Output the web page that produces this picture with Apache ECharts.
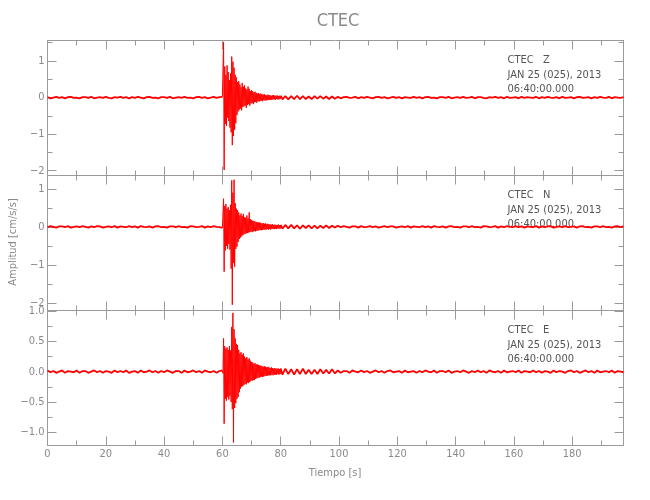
<!DOCTYPE html>
<html><head><meta charset="utf-8">
<script src="https://cdn.jsdelivr.net/npm/echarts@6/dist/echarts.min.js"></script>
<style>html,body{margin:0;padding:0;background:#fff}#c{width:650px;height:500px}</style>
</head><body><div id="c"></div>
<script>
// ---------- text ----------
const TITLE = 'CTEC';
const STATION = 'CTEC';
const COMPONENTS = ['Z', 'N', 'E'];
const DATE_LINE = 'JAN 25 (025), 2013';
const TIME_LINE = '06:40:00.000';
const X_LABEL = 'Tiempo [s]';
const Y_LABEL = 'Amplitud [cm/s/s]';

// ---------- axes ----------
const X_MIN = 0, X_MAX = 197.6;
const xTicks = [0, 20, 40, 60, 80, 100, 120, 140, 160, 180];
const xMinorTicks = [10, 30, 50, 70, 90, 110, 130, 150, 170, 190];
const zRange = [-2.13, 1.56];
const nRange = [-2.2, 1.35];
const eRange = [-1.22, 1.01];
const zTicks = [-2, -1, 0, 1];
const zMinorTicks = [-1.5, -0.5, 0.5, 1.5];
const nTicks = [-2, -1, 0, 1];
const nMinorTicks = [-1.5, -0.5, 0.5];
const eTicks = [-1.0, -0.5, 0.0, 0.5, 1.0];
const eMinorTicks = [-0.75, -0.25, 0.25, 0.75];

// ---------- sampling of the three trace segments (seconds) ----------
const PRE_START = 0, PRE_STEP = 1;
const EVENT_START = 60, EVENT_STEP = 0.2;
const POST_START = 80.6, POST_STEP = 1;

// ---------- Z component ----------
const zPre = [0.01,-0.02,0.00,0.02,-0.01,0.01,-0.02,0.01,0.02,-0.01,
 0.00,-0.02,0.01,0.01,-0.01,0.02,-0.02,0.00,0.01,-0.01,
 0.02,-0.01,-0.02,0.01,0.00,0.02,-0.01,0.01,-0.02,0.01,
 -0.01,0.02,0.00,-0.02,0.01,0.02,-0.01,0.00,-0.02,0.01,
 0.01,-0.01,0.02,-0.02,0.00,0.01,-0.01,0.02,-0.01,0.00,
 -0.02,0.01,0.02,-0.01,0.01,-0.02,0.00,0.02,-0.01,0.01];
const zEvent = [0.02,-0.03,1.52,-1.98,0.85,-0.72,0.62,-0.78,0.88,-0.55,
 0.70,-0.64,0.48,-0.82,0.66,-0.95,1.12,-1.30,0.98,-1.05,
 0.82,-0.88,0.62,-0.70,0.55,-0.48,0.42,-0.38,0.45,-0.33,
 0.36,-0.30,0.28,-0.35,0.40,-0.26,0.30,-0.24,0.33,-0.22,
 0.25,-0.28,0.22,-0.20,0.30,-0.18,0.24,-0.22,0.18,-0.16,
 0.20,-0.15,0.17,-0.18,0.14,-0.13,0.16,-0.12,0.13,-0.14,
 0.11,-0.10,0.12,-0.11,0.10,-0.09,0.11,-0.08,0.09,-0.10,
 0.08,-0.07,0.09,-0.08,0.07,-0.08,0.06,-0.07,0.08,-0.06,
 0.07,-0.06,0.06,-0.07,0.05,-0.06,0.06,-0.05,0.07,-0.05,
 0.05,-0.06,0.05,-0.04,0.06,-0.05,0.04,-0.05,0.05,-0.04,
 0.05];
const zPost = [-0.05,0.04,-0.05,0.04,-0.04,0.05,-0.04,0.04,-0.04,0.03,
 -0.04,0.04,-0.03,0.04,-0.03,0.03,-0.04,0.03,-0.03,0.02,
 -0.02,0.01,0.02,-0.01,0.00,0.02,-0.02,0.01,-0.01,0.02,
 0.00,-0.02,0.01,0.02,-0.01,0.01,-0.02,0.00,0.02,-0.01,
 0.01,-0.02,0.01,0.00,-0.01,0.02,-0.01,0.01,-0.02,0.01,
 0.02,-0.01,0.00,-0.02,0.01,0.01,-0.01,0.02,-0.02,0.00,
 0.01,-0.01,0.02,-0.01,0.00,0.02,-0.02,0.01,0.01,-0.01,
 -0.02,0.01,0.00,0.02,-0.01,0.01,-0.02,0.02,-0.01,0.00,
 0.01,-0.02,0.02,-0.01,0.01,0.00,-0.01,0.02,-0.02,0.01,
 -0.01,0.02,0.00,-0.01,0.01,-0.02,0.02,-0.01,0.00,0.01,
 -0.02,0.01,0.02,-0.01,0.00,0.01,-0.02,0.01,-0.01,0.02,
 0.00,-0.01,0.02,-0.02,0.01,0.00,-0.01,0.01];

// ---------- N component ----------
const nPre = [-0.01,0.02,0.00,-0.02,0.01,0.01,-0.01,0.02,-0.02,0.00,
 0.01,-0.01,0.02,0.00,-0.02,0.01,-0.01,0.02,0.01,-0.02,
 0.00,0.01,-0.01,0.02,-0.02,0.01,0.00,-0.01,0.02,-0.01,
 0.01,-0.02,0.02,0.00,-0.01,0.01,-0.02,0.01,0.02,-0.01,
 0.00,-0.02,0.01,0.01,-0.01,0.02,-0.01,0.00,-0.02,0.02,
 0.01,-0.01,0.00,0.02,-0.02,0.01,-0.01,0.02,0.00,-0.01];
const nEvent = [-0.03,0.02,0.74,-1.18,0.55,-0.62,0.60,-0.50,0.48,-0.58,
 0.52,-0.45,0.44,-0.60,0.58,-1.10,1.22,-2.05,0.90,-0.95,
 1.24,-1.05,0.62,-0.58,0.48,-0.52,0.44,-0.40,0.38,-0.32,
 0.30,-0.28,0.35,-0.25,0.28,-0.22,0.34,-0.20,0.26,-0.18,
 0.24,-0.17,0.30,-0.16,0.22,-0.15,0.38,-0.14,0.20,-0.13,
 0.18,-0.14,0.16,-0.12,0.15,-0.11,0.14,-0.12,0.13,-0.10,
 0.12,-0.10,0.11,-0.09,0.12,-0.08,0.10,-0.09,0.09,-0.08,
 0.10,-0.07,0.08,-0.08,0.09,-0.07,0.07,-0.06,0.08,-0.07,
 0.07,-0.06,0.06,-0.07,0.06,-0.05,0.07,-0.06,0.05,-0.06,
 0.06,-0.05,0.05,-0.06,0.05,-0.04,0.06,-0.05,0.04,-0.05,
 0.05];
const nPost = [-0.05,0.05,-0.04,0.05,-0.04,0.04,-0.05,0.04,-0.03,0.04,
 -0.04,0.03,-0.04,0.03,-0.03,0.04,-0.03,0.03,-0.02,0.03,
 -0.01,0.02,0.00,-0.02,0.01,0.01,-0.02,0.02,-0.01,0.00,
 0.02,-0.01,0.01,-0.02,0.00,0.02,-0.01,0.01,0.01,-0.02,
 0.00,0.01,-0.01,0.02,-0.02,0.01,0.00,-0.01,0.02,-0.01,
 0.01,-0.02,0.02,0.00,-0.01,0.01,-0.02,0.01,0.02,-0.01,
 0.00,-0.02,0.01,0.01,-0.01,0.02,-0.01,0.00,-0.02,0.02,
 0.01,-0.01,0.00,0.02,-0.02,0.01,-0.01,0.02,0.00,-0.01,
 0.02,-0.01,0.01,-0.02,0.01,0.00,-0.01,0.02,-0.02,0.01,
 -0.01,0.01,0.02,-0.02,0.00,0.01,-0.01,0.02,-0.01,0.00,
 0.01,-0.02,0.01,0.02,-0.01,0.00,-0.02,0.01,0.01,-0.01,
 0.02,-0.01,0.00,-0.02,0.01,0.02,-0.01,0.01];

// ---------- E component ----------
const ePre = [0.02,-0.01,0.01,-0.02,0.00,0.02,-0.02,0.01,0.00,-0.01,
 0.02,-0.02,0.01,0.01,-0.02,0.00,0.02,-0.01,0.01,-0.02,
 0.01,0.00,-0.02,0.02,-0.01,0.01,-0.01,0.02,-0.02,0.00,
 0.01,-0.02,0.02,-0.01,0.00,0.02,-0.01,0.01,-0.02,0.01,
 -0.01,0.02,0.00,-0.02,0.01,0.01,-0.02,0.02,-0.01,0.00,
 0.02,-0.01,0.01,-0.02,0.02,0.00,-0.01,0.01,-0.02,0.01];
const eEvent = [0.02,-0.03,0.55,-0.86,0.42,-0.45,0.38,-0.48,0.40,-0.42,
 0.36,-0.46,0.42,-0.40,0.35,-0.50,0.74,-0.62,0.97,-1.17,
 0.70,-0.60,0.55,-0.52,0.46,-0.45,0.44,-0.42,0.36,-0.34,
 0.30,-0.28,0.32,-0.25,0.28,-0.24,0.30,-0.22,0.25,-0.20,
 0.22,-0.21,0.24,-0.18,0.20,-0.19,0.22,-0.17,0.18,-0.15,
 0.16,-0.15,0.15,-0.14,0.13,-0.14,0.14,-0.12,0.12,-0.11,
 0.12,-0.10,0.11,-0.10,0.10,-0.09,0.10,-0.08,0.09,-0.09,
 0.08,-0.08,0.09,-0.07,0.08,-0.07,0.07,-0.07,0.08,-0.06,
 0.07,-0.06,0.06,-0.06,0.07,-0.05,0.06,-0.06,0.05,-0.05,
 0.06,-0.05,0.05,-0.05,0.05,-0.04,0.05,-0.05,0.04,-0.04,
 0.05];
const ePost = [-0.05,0.05,-0.04,0.04,-0.05,0.04,-0.04,0.05,-0.04,0.03,
 -0.04,0.03,-0.04,0.04,-0.03,0.03,-0.03,0.04,-0.03,0.02,
 -0.02,0.01,0.01,-0.02,0.02,0.00,-0.01,0.02,-0.01,0.01,
 -0.02,0.00,0.02,-0.01,0.01,-0.02,0.01,0.02,-0.01,0.00,
 0.01,-0.02,0.02,-0.01,0.00,0.01,-0.02,0.01,-0.01,0.02,
 0.00,-0.01,0.02,-0.02,0.01,0.01,-0.01,0.02,-0.02,0.00,
 0.01,-0.01,0.02,0.00,-0.02,0.01,-0.01,0.02,-0.01,0.01,
 -0.02,0.02,0.00,-0.01,0.01,-0.02,0.02,-0.01,0.00,0.01,
 -0.01,0.02,-0.02,0.01,0.00,-0.01,0.02,-0.01,0.01,-0.02,
 0.01,0.00,-0.02,0.02,-0.01,0.01,0.00,-0.02,0.01,0.02,
 -0.01,0.01,-0.02,0.00,0.02,-0.01,0.01,-0.02,0.02,-0.01,
 0.00,0.01,-0.01,0.02,-0.02,0.01,0.00,-0.01];

// ---------- build ----------
function seg(t0, dt, vals) {
  return vals.map((v, i) => [+(t0 + i * dt).toFixed(2), v]);
}
const panels = [
  { comp: COMPONENTS[0], range: zRange, ticks: zTicks, minor: zMinorTicks, dec: 0, pre: zPre, ev: zEvent, post: zPost },
  { comp: COMPONENTS[1], range: nRange, ticks: nTicks, minor: nMinorTicks, dec: 0, pre: nPre, ev: nEvent, post: nPost },
  { comp: COMPONENTS[2], range: eRange, ticks: eTicks, minor: eMinorTicks, dec: 1, pre: ePre, ev: eEvent, post: ePost }
];

const FONT = "'Liberation Sans Narrow', 'DejaVu Sans Condensed', 'DejaVu Sans', sans-serif";
const AXIS_COLOR = '#9a9a9a';
const LABEL_COLOR = '#8a8a8a';
const GRID_LEFT = 47.5, GRID_RIGHT = 26.5, GRID_H = 135;
const gridTops = [40.5, 175.5, 310.5];
const MAJOR_LEN = 9, MINOR_LEN = 5;

const grids = [], xAxes = [], yAxes = [], series = [], graphics = [];
const line = { lineStyle: { color: AXIS_COLOR, width: 1 } };

panels.forEach((p, k) => {
  grids.push({ left: GRID_LEFT, right: GRID_RIGHT, top: gridTops[k], height: GRID_H });
  ['bottom', 'top'].forEach(pos => {
    xAxes.push({
      gridIndex: k, type: 'value', position: pos, min: X_MIN, max: X_MAX,
      axisLine: { show: true, onZero: false, ...line },
      axisTick: { show: true, inside: true, length: MAJOR_LEN, customValues: xTicks, ...line },
      axisLabel: { show: pos === 'bottom' && k === 2, customValues: xTicks, color: LABEL_COLOR, fontSize: 11, fontFamily: FONT, margin: 3 },
      splitLine: { show: false }
    });
    xAxes.push({
      gridIndex: k, type: 'value', position: pos, min: X_MIN, max: X_MAX,
      axisLine: { show: false, onZero: false },
      axisTick: { show: true, inside: true, length: MINOR_LEN, customValues: xMinorTicks, ...line },
      axisLabel: { show: false, customValues: xMinorTicks },
      splitLine: { show: false }
    });
  });
  ['left', 'right'].forEach(pos => {
    yAxes.push({
      gridIndex: k, type: 'value', position: pos, min: p.range[0], max: p.range[1],
      axisLine: { show: true, onZero: false, ...line },
      axisTick: { show: true, inside: true, length: MAJOR_LEN, customValues: p.ticks, ...line },
      axisLabel: {
        show: pos === 'left', customValues: p.ticks, color: LABEL_COLOR, fontSize: 11, fontFamily: FONT, margin: 3,
        formatter: v => (p.dec ? v.toFixed(p.dec) : String(Math.round(v))).replace('-', '\u2212')
      },
      splitLine: { show: false }
    });
    yAxes.push({
      gridIndex: k, type: 'value', position: pos, min: p.range[0], max: p.range[1],
      axisLine: { show: false, onZero: false },
      axisTick: { show: true, inside: true, length: MINOR_LEN, customValues: p.minor, ...line },
      axisLabel: { show: false, customValues: p.minor },
      splitLine: { show: false }
    });
  });
  const base = { type: 'line', xAxisIndex: k * 4, yAxisIndex: k * 4, showSymbol: false, symbol: 'none',
    sampling: null, clip: true, animation: false, silent: true };
  const evData = seg(EVENT_START, EVENT_STEP, p.ev);
  const preData = seg(PRE_START, PRE_STEP, p.pre).concat([evData[0]]);
  const postData = [evData[evData.length - 1]].concat(seg(POST_START, POST_STEP, p.post));
  series.push({ ...base, data: preData, lineStyle: { color: '#ff0000', width: 1.8 } });
  series.push({ ...base, data: postData, lineStyle: { color: '#ff0000', width: 1.8 } });
  series.push({ ...base, data: evData, lineStyle: { color: '#ff0000', width: 1 } });
  const t = gridTops[k];
  [STATION + '   ' + p.comp, DATE_LINE, TIME_LINE].forEach((s, i) => {
    graphics.push({
      type: 'text', x: 507.5, y: t + 20 + i * 14.4, silent: true,
      style: { text: s, fill: '#555555', fontSize: 11, fontFamily: FONT, align: 'left', verticalAlign: 'middle' }
    });
  });
});

graphics.push({ type: 'text', x: 338, y: 21, silent: true,
  style: { text: TITLE, fill: '#8a8a8a', fontSize: 18, fontFamily: FONT, align: 'center', verticalAlign: 'middle' } });
graphics.push({ type: 'text', x: 335, y: 473, silent: true,
  style: { text: X_LABEL, fill: '#8a8a8a', fontSize: 11, fontFamily: FONT, align: 'center', verticalAlign: 'middle' } });
graphics.push({ type: 'text', x: 13, y: 242, rotation: Math.PI / 2, silent: true,
  style: { text: Y_LABEL, fill: '#8a8a8a', fontSize: 11, fontFamily: FONT, align: 'center', verticalAlign: 'middle' } });

const chart = echarts.init(document.getElementById('c'), null, { renderer: 'canvas' });
chart.setOption({
  animation: false,
  backgroundColor: '#ffffff',
  grid: grids, xAxis: xAxes, yAxis: yAxes, series: series, graphic: graphics
});
</script></body></html>
